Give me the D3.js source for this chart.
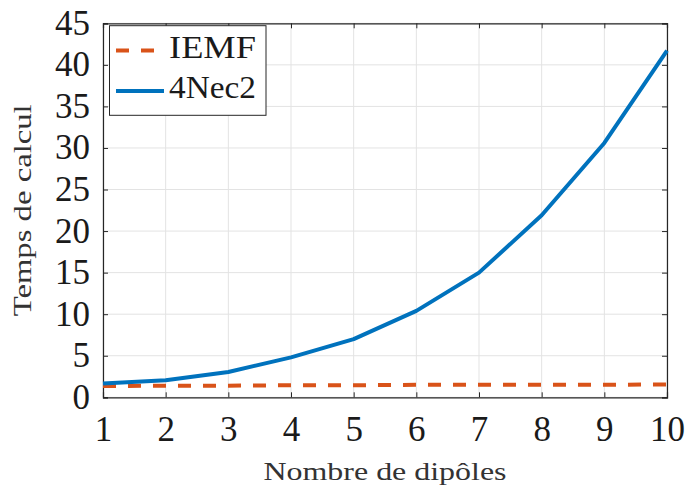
<!DOCTYPE html>
<html><head><meta charset="utf-8">
<script src="https://cdn.jsdelivr.net/npm/d3@7"></script>
<style>html,body{margin:0;padding:0;background:#fff;}svg{display:block;}svg text{font-family:"Liberation Serif","Times New Roman",Times,serif;}</style>
</head><body>
<svg id="c" width="686" height="492"></svg>
<script>
const dipoles = [1,2,3,4,5,6,7,8,9,10];
const iemf   = [1.35,1.4,1.4,1.45,1.45,1.5,1.5,1.5,1.5,1.55];
const nec2   = [1.65,2.05,3.05,4.8,7.0,10.4,15.0,21.9,30.6,41.7];
const xTicks = [1,2,3,4,5,6,7,8,9,10];
const yTicks = [0,5,10,15,20,25,30,35,40,45];
const seriesNames = ["IEMF","4Nec2"];
const xLabel = "Nombre de dipôles";
const yLabel = "Temps de calcul";

const svg = d3.select("#c");
const L=103, R=667, T=23.3, B=397.3;
const x = d3.scaleLinear().domain([1,10]).range([L,R]);
const y = d3.scaleLinear().domain([0,45]).range([B,T]);
const axc = "#262626";

svg.append("g").selectAll("line").data(xTicks).join("line")
  .attr("x1",d=>x(d)).attr("x2",d=>x(d)).attr("y1",T).attr("y2",B)
  .attr("stroke","#e3e3e3").attr("stroke-width",1);
svg.append("g").selectAll("line").data(yTicks).join("line")
  .attr("x1",L).attr("x2",R).attr("y1",d=>y(d)).attr("y2",d=>y(d))
  .attr("stroke","#e3e3e3").attr("stroke-width",1);

const gx = svg.append("g").attr("transform",`translate(0,${B})`)
  .call(d3.axisBottom(x).tickValues(xTicks).tickSize(-5).tickPadding(0).tickFormat(d3.format("d")));
const gy = svg.append("g").attr("transform",`translate(${L},0)`)
  .call(d3.axisLeft(y).tickValues(yTicks).tickSize(-5).tickPadding(0).tickFormat(d3.format("d")));
const gxt = svg.append("g").attr("transform",`translate(0,${T})`)
  .call(d3.axisTop(x).tickValues(xTicks).tickSize(-5).tickFormat(""));
const gyr = svg.append("g").attr("transform",`translate(${R},0)`)
  .call(d3.axisRight(y).tickValues(yTicks).tickSize(-5).tickFormat(""));
[gx,gy,gxt,gyr].forEach(g=>{
  g.attr("font-family",null);
  g.select(".domain").attr("stroke",axc).attr("stroke-width",1.2);
  g.selectAll(".tick line").attr("stroke",axc).attr("stroke-width",1);
});
gx.selectAll(".tick text").attr("fill","#1a1a1a").attr("font-size",35)
  .attr("y",44).attr("dy",0);
gy.selectAll(".tick text").attr("fill","#1a1a1a").attr("font-size",35)
  .attr("x",-13).attr("dy",0).attr("y",11);

const line = d3.line().x((d,i)=>x(dipoles[i])).y(d=>y(d));
svg.append("path").datum(iemf).attr("d",line).attr("fill","none")
  .attr("stroke","#D95319").attr("stroke-width",4).attr("stroke-dasharray","13,12");
svg.append("path").datum(nec2).attr("d",line).attr("fill","none")
  .attr("stroke","#0072BD").attr("stroke-width",4).attr("stroke-linejoin","round");

svg.append("text").attr("x",(L+R)/2).attr("y",480).attr("text-anchor","middle")
  .attr("font-size",25).attr("fill","#333")
  .attr("textLength",243).attr("lengthAdjust","spacingAndGlyphs").text(xLabel);
svg.append("text").attr("transform",`translate(31,${(T+B)/2}) rotate(-90)`)
  .attr("text-anchor","middle").attr("font-size",25).attr("fill","#333")
  .attr("textLength",212).attr("lengthAdjust","spacingAndGlyphs").text(yLabel);

const lg = svg.append("g");
lg.append("rect").attr("x",109.5).attr("y",25.7).attr("width",156.5).attr("height",89.6)
  .attr("fill","#fff").attr("stroke","#262626").attr("stroke-width",1);
const legY = [50.5,91];
const legCol = ["#D95319","#0072BD"];
const legDash = ["13,12",null];
seriesNames.forEach((n,i)=>{
  lg.append("line").attr("x1",116).attr("x2",164).attr("y1",legY[i]).attr("y2",legY[i])
    .attr("stroke",legCol[i]).attr("stroke-width",4).attr("stroke-dasharray",legDash[i]);
  lg.append("text").attr("x",169).attr("y",legY[i]+7).attr("font-size",32)
    .attr("fill","#1a1a1a").attr("textLength",87).attr("lengthAdjust","spacingAndGlyphs").text(n);
});
</script>
</body></html>
